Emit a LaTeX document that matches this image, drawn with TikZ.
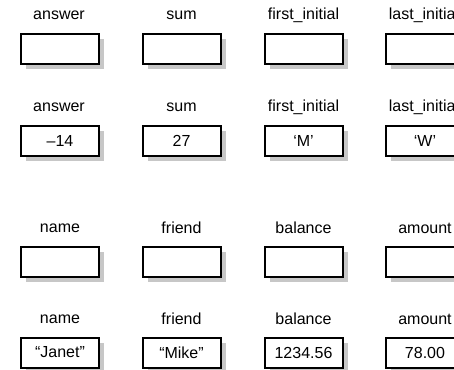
\documentclass[tikz,border=0pt]{standalone}
\usepackage{fontspec}
\setmainfont{Liberation Sans}
\usetikzlibrary{shadows}

\begin{document}
\begin{tikzpicture}[x=1pt, y=-1pt,
    every node/.style={font=\fontsize{16}{19}\selectfont},
    varbox/.style={draw, line width=2pt, fill=white, minimum width=78pt, minimum height=30pt,
        inner sep=0pt, general shadow={fill=black!22, shadow xshift=5pt, shadow yshift=-5pt}},
    varname/.style={inner sep=0pt}]
    % Frame (the right column is cut off)
    \useasboundingbox (0,0) rectangle (454,369);
    \clip (0,0) rectangle (454,369);

    % Row 1: declared, empty
    \node[varbox] (answerA) at (60,49) {};
    \node[varbox] (sumA) at (181.5,49) {};
    \node[varbox] (firstA) at (303.5,49) {};
    \node[varbox] (lastA) at (425,49) {};
    \node[varname] (answerAl) at (59,15) {answer};
    \node[varname] (sumAl) at (181.5,15) {sum};
    \node[varname] (firstAl) at (303.5,15) {first\_initial};
    \node[varname] (lastAl) at (424,15) {last\_initial};

    % Row 2: with values
    \node[varbox] (answerB) at (60,140.5) {–14};
    \node[varbox] (sumB) at (181.5,140.5) {27};
    \node[varbox] (firstB) at (303.5,140.5) {‘M’};
    \node[varbox] (lastB) at (425,140.5) {‘W’};
    \node[varname] (answerBl) at (59,107) {answer};
    \node[varname] (sumBl) at (181.5,107) {sum};
    \node[varname] (firstBl) at (303.5,107) {first\_initial};
    \node[varname] (lastBl) at (424,107) {last\_initial};

    % Row 3: declared, empty
    \node[varbox] (nameA) at (60,261.5) {};
    \node[varbox] (friendA) at (181.5,261.5) {};
    \node[varbox] (balanceA) at (303.5,261.5) {};
    \node[varbox] (amountA) at (425,261.5) {};
    \node[varname] (nameAl) at (60,228) {name};
    \node[varname] (friendAl) at (181.5,228) {friend};
    \node[varname] (balanceAl) at (303.5,228) {balance};
    \node[varname] (amountAl) at (425,228) {amount};

    % Row 4: with values
    \node[varbox] (nameB) at (60,352.5) {“Janet”};
    \node[varbox] (friendB) at (181.5,352.5) {“Mike”};
    \node[varbox] (balanceB) at (303.5,352.5) {1234.56};
    \node[varbox] (amountB) at (425,352.5) {78.00};
    \node[varname] (nameBl) at (60,319) {name};
    \node[varname] (friendBl) at (181.5,319) {friend};
    \node[varname] (balanceBl) at (303.5,319) {balance};
    \node[varname] (amountBl) at (425,319) {amount};
\end{tikzpicture}
\end{document}
